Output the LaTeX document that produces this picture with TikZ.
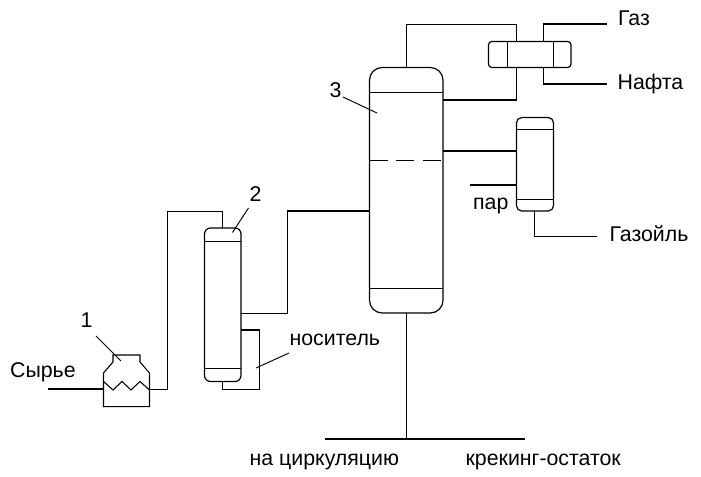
\documentclass[tikz,border=0pt]{standalone}
\usepackage{fontspec}
\setmainfont{Liberation Sans}
\begin{document}
\begin{tikzpicture}[x=0.75pt,y=-0.75pt,line width=0.9pt,line join=miter,
  vessel/.style={draw,inner sep=0pt,outer sep=0pt,minimum width=#1},
  lbl/.style={inner sep=0pt,font=\fontsize{16pt}{18pt}\selectfont,anchor=base west},
  tray/.style={line width=0.8pt},
  thin leader/.style={line width=0.7pt},
  pipe/.style={line width=0.9pt}]
\useasboundingbox (0,0) rectangle (701,477);
% vessels
\node[vessel=73.5pt*0.75,minimum height=245.5pt*0.75,rounded corners=9.5pt] (c3) at (406.25,190.25) {};
\node[vessel=36.5pt*0.75,minimum height=153.5pt*0.75,rounded corners=4.5pt] (c2) at (222.75,304.75) {};
\node[vessel=37pt*0.75,minimum height=93.5pt*0.75,rounded corners=4pt] (c4) at (535,164.25) {};
\node[vessel=82.5pt*0.75,minimum height=26pt*0.75,rounded corners=2.5pt] (cond) at (529.75,54.5) {};
% internal trays
\draw[tray] (c3.west |- 0,92.5) -- (c3.east |- 0,92.5);
\draw[tray] (c3.west |- 0,288.5) -- (c3.east |- 0,288.5);
\draw[tray,dash pattern=on 13.5pt off 6.5pt] (c3.west |- 0,160.5) -- (c3.east |- 0,160.5);
\draw[tray] (c2.west |- 0,241.5) -- (c2.east |- 0,241.5);
\draw[tray] (c2.west |- 0,368.5) -- (c2.east |- 0,368.5);
\draw[tray] (c4.west |- 0,129.5) -- (c4.east |- 0,129.5);
\draw[tray] (c4.west |- 0,199.5) -- (c4.east |- 0,199.5);
\draw[tray] (507.5,0 |- cond.north) -- (507.5,0 |- cond.south);
\draw[tray] (553.5,0 |- cond.north) -- (553.5,0 |- cond.south);
% furnace
\coordinate (fIn) at (103.5,389.5);
\coordinate (fOut) at (149.5,389.5);
\draw[tray] (103.5,406.7) -- (103.5,373) -- (113,362) -- (113,355) -- (140,355) -- (140,362) -- (149.5,373) -- (149.5,406.7) -- cycle;
\draw[tray] (103.5,381.5) -- (113,390) -- (122,381.5) -- (131,390) -- (140,381.5) -- (149.5,390);
% pipes
\coordinate (feed) at (48,389);
\draw[pipe] (feed) -- (103.5,389);
\draw[pipe] (fOut) -- (167.5,389.5) -- (167.5,211.5) -- (222.5,211.5) -- (222.5,0 |- c2.north);
\draw[pipe] (c2.east |- 0,313.5) -- (287.5,313.5) -- (287.5,211) -- (c3.west |- 0,211);
\draw[pipe] (c2.east |- 0,330) -- (259.5,330) -- (259.5,389.5) -- (222.5,389.5) -- (222.5,0 |- c2.south);
\draw[pipe] (c3.north) -- (406.25,24.5) -- (516.5,24.5) -- (516.5,0 |- cond.north);
\draw[pipe] (516.5,0 |- cond.south) -- (516.5,100) -- (c3.east |- 0,100);
\coordinate (gas) at (607,24);
\coordinate (naphtha) at (607,84);
\draw[pipe] (543.5,0 |- cond.north) -- (543.5,24) -- (gas);
\draw[pipe] (543.5,0 |- cond.south) -- (543.5,84) -- (naphtha);
\draw[pipe] (c3.east |- 0,151) -- (c4.west |- 0,151);
\coordinate (steam) at (470,185);
\draw[pipe] (steam) -- (c4.west |- 0,185);
\coordinate (gasoil) at (597,236.5);
\draw[pipe] (534.5,0 |- c4.south) -- (534.5,236.5) -- (gasoil);
\coordinate (bl) at (325,439);
\coordinate (br) at (525,439);
\draw[pipe] (c3.south) -- (406.25,439);
\draw[pipe] (bl) -- (br);
% leaders
\draw[thin leader] (96,336) -- (121,361);
\draw[thin leader] (248.5,208) -- (232.5,232.5);
\draw[thin leader] (343,97) -- (377,113);
\draw[thin leader] (289,353) -- (256,368);
% labels
\node[lbl] (l1) at (80,328) {1};
\node[lbl] (l2) at (249,202) {2};
\node[lbl] (l3) at (329,98) {3};
\node[lbl] (t1) at (9.5,378) {Сырье};
\node[lbl] (t2) at (289,346) {носитель};
\node[lbl] (t3) at (617.5,26) {Газ};
\node[lbl] (t4) at (617,90) {Нафта};
\node[lbl] (t5) at (472.5,210) {пар};
\node[lbl] (t6) at (609,242) {Газойль};
\node[lbl] (t7) at (249,466) {на циркуляцию};
\node[lbl] (t8) at (465,466) {крекинг-остаток};
\end{tikzpicture}
\end{document}
